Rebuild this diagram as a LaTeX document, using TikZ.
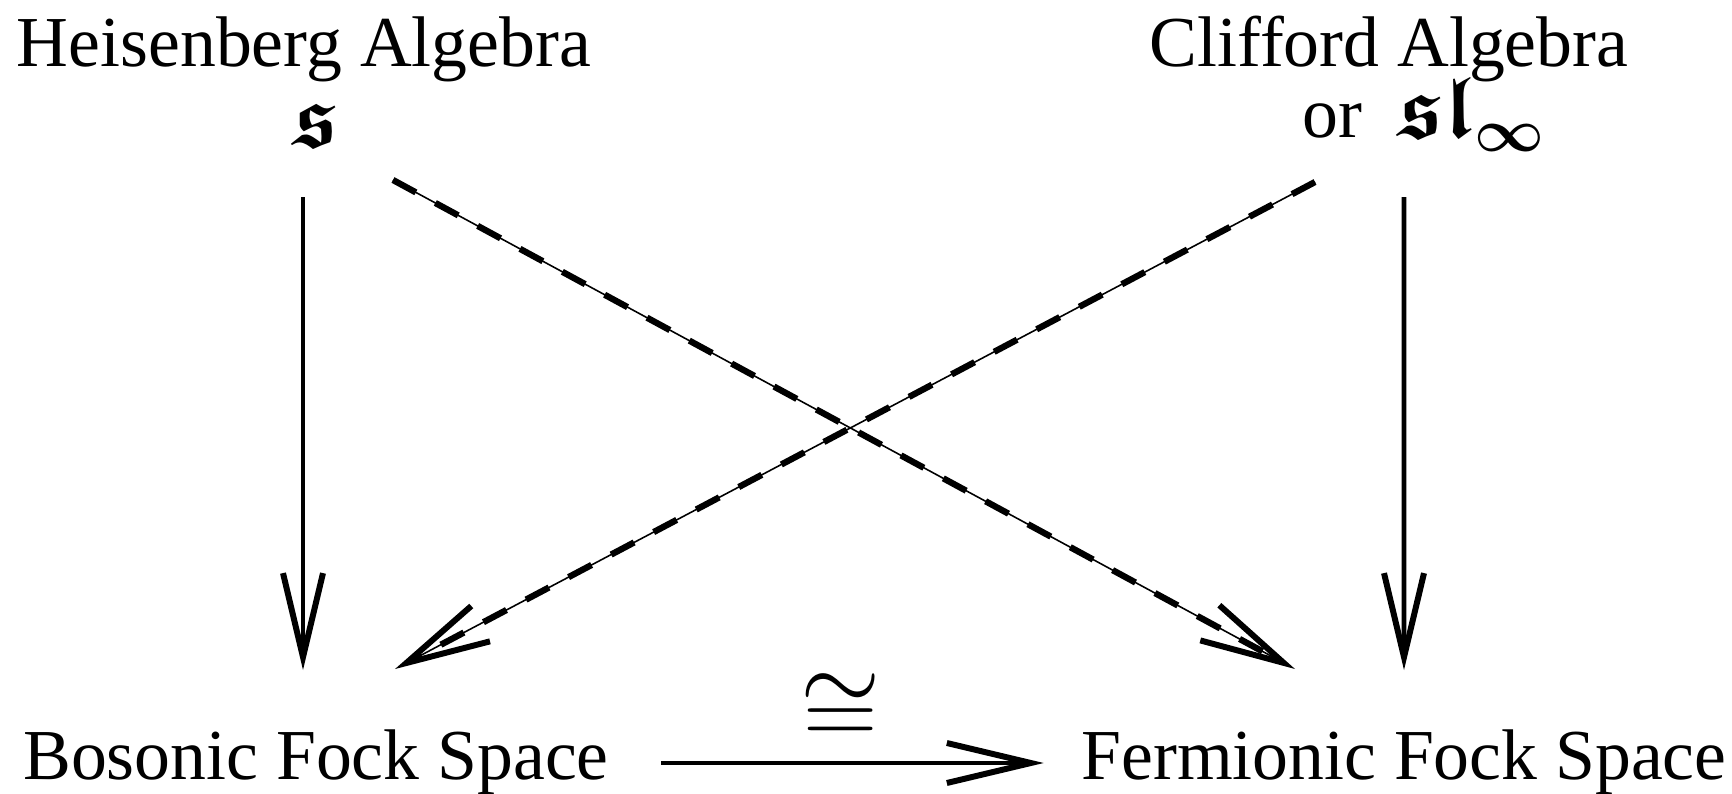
\documentclass[tikz,border=0pt]{standalone}
\usepackage{amssymb}
\usepackage{fontspec}
\setmainfont{Liberation Serif}
\usetikzlibrary{arrows.meta, calc}
\DeclareMathSizes{25}{25}{16}{12}

\tikzset{
  labeltext/.style={inner sep=0pt, anchor=base, font=\fontsize{20.4}{24}\selectfont},
  fraktext/.style={labeltext, font=\fontsize{25}{30}\selectfont\boldmath},
  bigmath/.style={inner sep=0pt, font=\fontsize{25}{30}\selectfont},
  fockarrow/.style={line width=1.3pt,
    -{Straight Barb[length=8.4mm, width=4mm, line width=1.7pt]}},
  corrarrow/.style={line width=0.45pt,
    -{Straight Barb[length=8.4mm, width=4mm, line width=1.7pt]},
    postaction={draw, -, line width=1.8pt, dash pattern=on 7.4pt off 6.3pt, shorten >=2mm}}
}

\begin{document}
\begin{tikzpicture}
  \useasboundingbox (0,0) rectangle (17.32,7.93);

  % algebras
  \node[labeltext] (heis) at (3.04, 7.27) {Heisenberg Algebra};
  \node[fraktext] (hfrak) at (3.16, 6.46) {$\mathfrak{s}$};
  \node[labeltext] (cliff) at (13.89, 7.27) {Clifford Algebra};
  \node[labeltext, anchor=base west] (cor) at (13.02, 6.55) {or};
  \node[fraktext, anchor=base west] (cfrak) at (13.98, 6.55) {$\mathfrak{sl}_\infty$};

  % Fock spaces
  \node[labeltext] (bos) at (3.16, 0.14) {Bosonic Fock Space};
  \node[labeltext] (ferm) at (14.04, 0.14) {Fermionic Fock Space};

  \draw[fockarrow] ($(hfrak.base)+(-0.13,-0.50)$) -- ($(bos.base)+(-0.13,1.09)$);
  \draw[fockarrow] ($(cor.base west)+(1.02,-0.59)$) -- ($(ferm.base)+(0,1.09)$);

  \draw[corrarrow] ($(hfrak.base)+(0.77,-0.33)$) -- ($(ferm.base)+(-1.09,1.10)$);
  \draw[corrarrow] ($(cor.base west)+(0.13,-0.44)$) -- ($(bos.base)+(0.79,1.10)$);

  \draw[fockarrow] ($(bos.base east)+(0.52,0.16)$) -- ($(ferm.base west)+(-0.37,0.16)$)
    node[bigmath, pos=0.47, above=0.15cm] (iso) {\scalebox{1.18}{$\cong$}};
\end{tikzpicture}
\end{document}
